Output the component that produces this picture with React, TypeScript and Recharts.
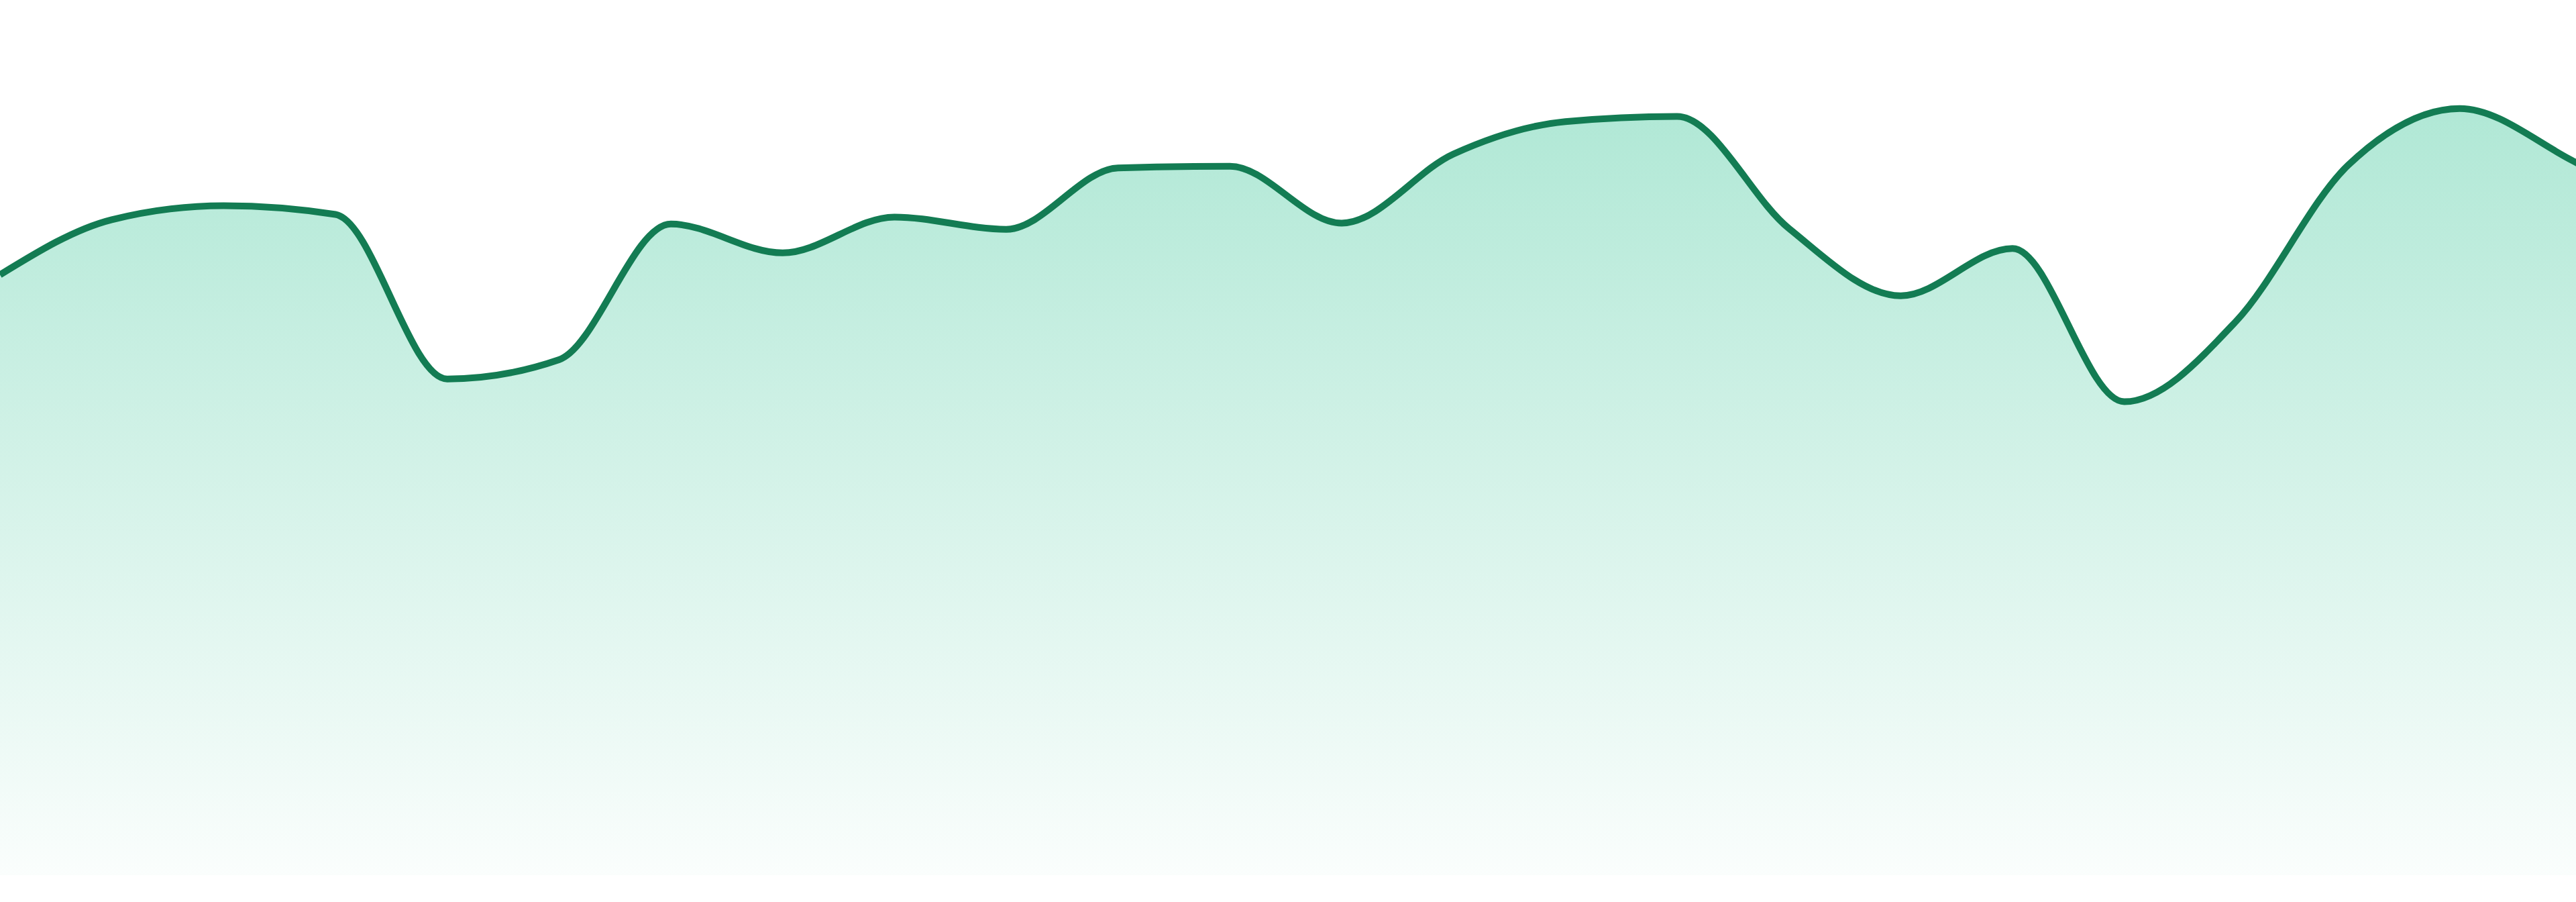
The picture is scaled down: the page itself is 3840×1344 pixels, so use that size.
import React from "react";
import { AreaChart, Area, XAxis, YAxis } from "recharts";

const categories: string[] = [
  "00", "01", "02", "03", "04", "05", "06", "07", "08", "09", "10", "11",
  "12", "13", "14", "15", "16", "17", "18", "19", "20", "21", "22", "23", "24",
];

const values: number[] = [
  68.6, 74.9, 76.5, 75.5, 56.7, 58.9, 74.4, 71.1, 75.2, 73.8, 80.8, 81.0,
  74.5, 82.4, 86.1, 86.7, 73.9, 66.2, 71.6, 54.1, 63.3, 81.1, 87.6, 81.7, 74.3,
];

const yDomain: [number, number] = [0, 100];

const data = categories.map((c, i) => ({ name: c, value: values[i] }));

export default function App() {
  return (
    <div
      style={{
        position: "absolute",
        left: 0,
        top: 0,
        width: 3840,
        height: 1344,
        overflow: "hidden",
        background: "#ffffff",
      }}
    >
      <AreaChart
        width={4000}
        height={1304}
        data={data}
        margin={{ top: 0, right: 0, bottom: 0, left: 0 }}
      >
        <defs>
          <linearGradient id="fillGrad" x1="0" y1="0" x2="0" y2="1">
            <stop offset="0%" stopColor="#10b981" stopOpacity={0.33} />
            <stop offset="100%" stopColor="#10b981" stopOpacity={0.02} />
          </linearGradient>
        </defs>
        <XAxis dataKey="name" hide padding={{ left: 0, right: 0 }} />
        <YAxis hide domain={yDomain} />
        <Area
          type="monotone"
          dataKey="value"
          stroke="#137c53"
          strokeWidth={10}
          fill="url(#fillGrad)"
          fillOpacity={1}
          dot={false}
          activeDot={false}
          isAnimationActive={false}
        />
      </AreaChart>
    </div>
  );
}
